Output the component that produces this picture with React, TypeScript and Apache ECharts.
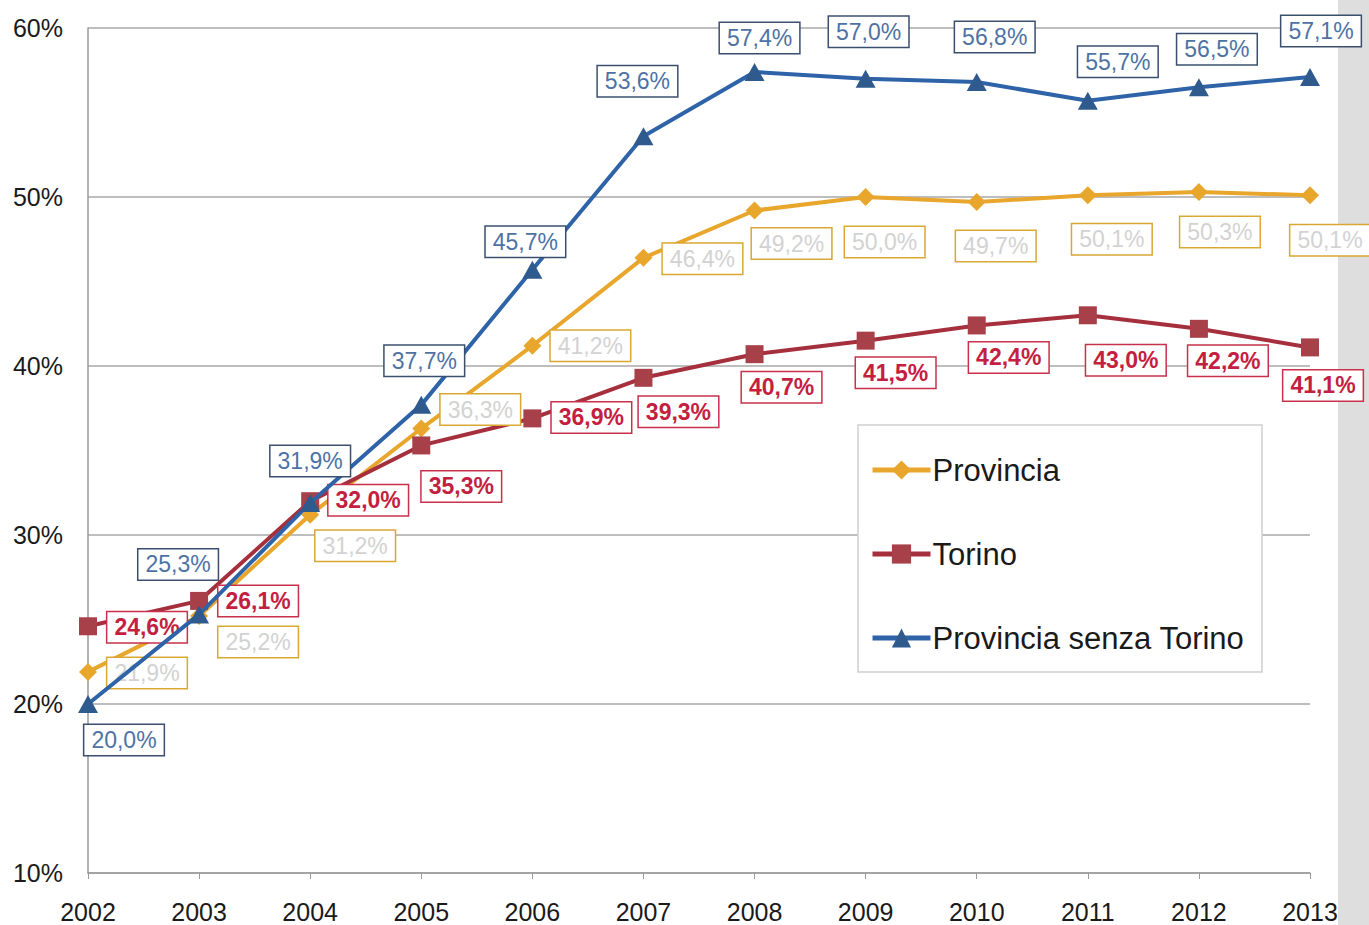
import React, { useEffect, useRef } from "react";
import * as echarts from "echarts";

const years = ["2002", "2003", "2004", "2005", "2006", "2007", "2008", "2009", "2010", "2011", "2012", "2013"];
const provincia = [21.9, 25.2, 31.2, 36.3, 41.2, 46.4, 49.2, 50.0, 49.7, 50.1, 50.3, 50.1];
const torino = [24.6, 26.1, 32.0, 35.3, 36.9, 39.3, 40.7, 41.5, 42.4, 43.0, 42.2, 41.1];
const senzaTorino = [20.0, 25.3, 31.9, 37.7, 45.7, 53.6, 57.4, 57.0, 56.8, 55.7, 56.5, 57.1];
const yTicks = [10, 20, 30, 40, 50, 60];

// label offsets (px) relative to each point
const provinciaOffsets = [[59, 1], [59, 26], [45, 31], [59, -19], [58, 0], [59, 1], [37, 33], [19, 45], [19, 44], [24, 44], [21, 40], [20, 45]];
const torinoOffsets = [[59, 1], [59, 0], [58, -1], [40, 41], [59, -1], [35, 34], [27, 33], [30, 32], [32, 32], [38, 45], [29, 32], [13, 38]];
const senzaOffsets = [[36, 36], [-21, -50], [0, -42], [3, -44], [-7, -28], [-6, -55], [5, -34], [3, -47], [18, -45], [30, -39], [18, -38], [11, -46]];

const FONT = "'Liberation Sans', Arial, Helvetica, sans-serif";

const fmt = (v: number) => v.toFixed(1).replace(".", ",") + "%";

function buildData(values: number[], offsets: number[][]) {
  return values.map((v, i) => ({ value: v, label: { offset: offsets[i] } }));
}

function labelStyle(textColor: string, borderColor: string, weight: string) {
  return {
    show: true,
    position: "inside",
    formatter: (p: any) => fmt(p.value),
    color: textColor,
    fontFamily: FONT,
    fontSize: 23,
    fontWeight: weight,
    backgroundColor: "#ffffff",
    borderColor,
    borderWidth: 1.5,
    padding: [4, 7, 3, 7],
    align: "center",
    verticalAlign: "middle",
  };
}

export default function App() {
  const ref = useRef<HTMLDivElement>(null);
  useEffect(() => {
    if (!ref.current) return;
    const chart = echarts.init(ref.current, null, { renderer: "svg" });
    chart.setOption({
      animation: false,
      backgroundColor: "#ffffff",
      textStyle: { fontFamily: FONT },
      grid: { left: 88, right: 59, top: 28, bottom: 52, containLabel: false },
      graphic: [
        {
          type: "rect",
          z: -10,
          shape: { x: 1338, y: 0, width: 31, height: 925 },
          style: { fill: "#dedede" },
          silent: true,
        },
        {
          type: "rect",
          z: 5,
          shape: { x: 858, y: 425, width: 404, height: 247 },
          style: { fill: "#ffffff", stroke: "#cfcfcf", lineWidth: 1.5 },
          silent: true,
        },
      ],
      legend: {
        orient: "vertical",
        left: 865,
        top: 448,
        itemWidth: 58,
        itemHeight: 24,
        itemGap: 50,
        z: 10,
        lineStyle: { width: 5 },
        textStyle: { fontFamily: FONT, fontSize: 31, color: "#1a1a1a", lineHeight: 34, padding: [0, 0, 0, -3] },
        data: ["Provincia", "Torino", "Provincia senza Torino"],
      },
      xAxis: {
        type: "category",
        data: years,
        boundaryGap: false,
        axisLine: { show: true, lineStyle: { color: "#9a9a9a", width: 1.5 } },
        axisTick: { show: true, length: 6, lineStyle: { color: "#9a9a9a" } },
        axisLabel: { color: "#1a1a1a", fontSize: 25, fontFamily: FONT, margin: 26 },
        splitLine: { show: false },
      },
      yAxis: {
        type: "value",
        min: 10,
        max: 60,
        interval: 10,
        axisLine: { show: true, lineStyle: { color: "#9a9a9a", width: 1.5 } },
        axisTick: { show: false },
        axisLabel: {
          color: "#1a1a1a",
          fontSize: 25,
          fontFamily: FONT,
          margin: 25,
          formatter: (v: number) => (yTicks.includes(v) ? v + "%" : ""),
        },
        splitLine: { show: true, lineStyle: { color: "#a8a8a8", width: 1.5 } },
      },
      series: [
        {
          name: "Provincia",
          type: "line",
          data: buildData(provincia, provinciaOffsets),
          symbol: "diamond",
          symbolSize: 18,
          lineStyle: { color: "#E8A62C", width: 4 },
          itemStyle: { color: "#E8A62C" },
          label: labelStyle("#d2d2d2", "#D9A732", "normal"),
          z: 3,
        },
        {
          name: "Torino",
          type: "line",
          data: buildData(torino, torinoOffsets),
          symbol: "rect",
          symbolSize: 18,
          lineStyle: { color: "#A52F3C", width: 4 },
          itemStyle: { color: "#A8404A" },
          label: labelStyle("#C41E40", "#C8304C", "bold"),
          z: 3,
        },
        {
          name: "Provincia senza Torino",
          type: "line",
          data: buildData(senzaTorino, senzaOffsets),
          symbol: "triangle",
          symbolSize: [20, 18],
          lineStyle: { color: "#2E63A8", width: 4 },
          itemStyle: { color: "#2F5A8E" },
          label: labelStyle("#4E72A4", "#3A4F6E", "normal"),
          z: 4,
        },
      ],
    });
    return () => chart.dispose();
  }, []);
  return (
    <div
      ref={ref}
      style={{ position: "absolute", left: 0, top: 0, width: 1369, height: 925 }}
    />
  );
}
